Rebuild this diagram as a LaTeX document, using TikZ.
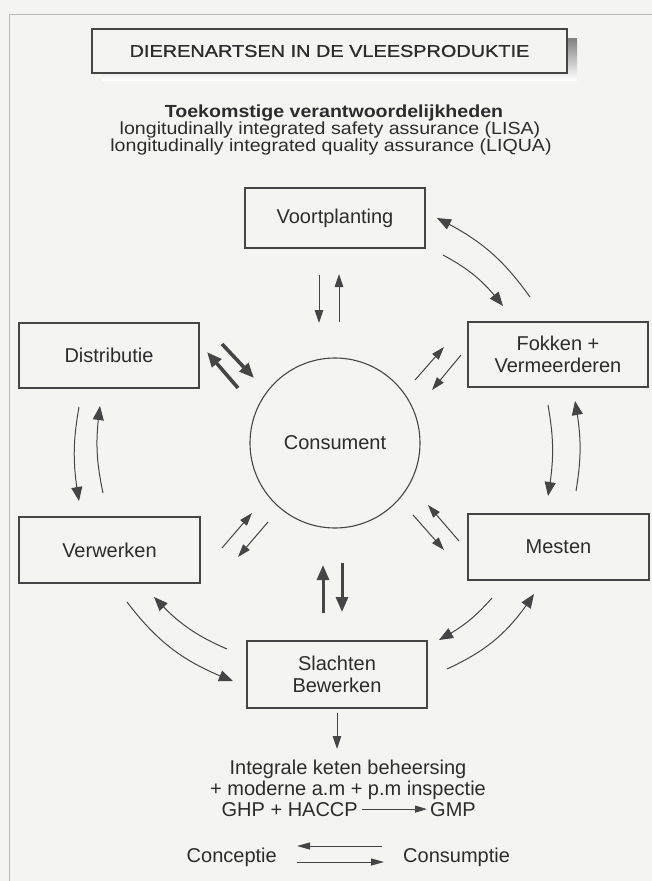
\documentclass[tikz,border=0pt]{standalone}
\usepackage{fontspec}
\setmainfont{Liberation Sans}
\newfontfamily\widefont[FakeStretch=1.12]{Liberation Sans}
\newfontfamily\titlefont[FakeStretch=1.17,FakeBold=1]{Liberation Sans}
\usetikzlibrary{arrows.meta,bending}
\definecolor{ink}{HTML}{2C2C2C}
\definecolor{bg}{HTML}{F4F5F0}
\definecolor{linec}{HTML}{454545}
\definecolor{frame}{HTML}{B8B8B4}
\definecolor{shade}{HTML}{8C8C8C}
\begin{document}
\begin{tikzpicture}[x=1pt,y=1pt,
  box/.style={draw=linec,line width=1.2pt,minimum width=180pt,align=center,
    font=\fontsize{20}{22}\selectfont,text=ink,inner sep=0pt},
  lbl/.style={font=\fontsize{20}{22}\selectfont,text=ink,inner sep=2pt},
  thin/.style={draw=linec,line width=1pt,-{Triangle[length=13pt,width=8.5pt]}},
  heavy/.style={draw=linec,line width=3.6pt,-{Triangle[length=15pt,width=12pt]}},
  curv/.style={draw=linec,line width=1pt,-{Triangle[length=14pt,width=11pt]}}]
\useasboundingbox (0,0) rectangle (652,-881);
\fill[bg] (0,0) rectangle (652,-881);
\draw[frame,line width=1pt] (9,-881) -- (9,-14) -- (652,-14);

% title
\fill[shade] (102,-38) rectangle (577,-80);
\node[draw=linec,line width=1.2pt,fill=bg,minimum width=475pt,minimum height=44pt,
  inner sep=0pt,text=ink,font=\titlefont\fontsize{17}{20}\selectfont] (title) at (329.5,-51)
  {DIERENARTSEN IN DE VLEESPRODUKTIE};

\node[anchor=base,text=ink,inner sep=0pt,font=\widefont\bfseries\fontsize{17.5}{17}\selectfont] (sub1) at (334,-117)
  {Toekomstige verantwoordelijkheden};
\node[anchor=base,text=ink,inner sep=0pt,font=\widefont\fontsize{17.5}{17}\selectfont] (sub2) at (330,-134.5)
  {longitudinally integrated safety assurance (LISA)};
\node[anchor=base,text=ink,inner sep=0pt,font=\widefont\fontsize{17.5}{17}\selectfont] (sub3) at (331,-151)
  {longitudinally integrated quality assurance (LIQUA)};

% nodes
\node[box,minimum height=60pt] (vp) at (335,-218) {Voortplanting};
\node[box,minimum height=65pt] (fok) at (558,-354.5) {Fokken +\\Vermeerderen};
\node[box,minimum height=65pt] (dist) at (109,-355.5) {Distributie};
\node[box,minimum height=66pt,minimum width=181pt] (verw) at (109.5,-550) {Verwerken};
\node[box,minimum height=66pt,minimum width=181pt] (mest) at (558.5,-547) {Mesten};
\node[box,minimum height=67pt] (sla) at (337,-674.5) {Slachten\\Bewerken};
\node[draw=linec,line width=1.1pt,circle,minimum size=170pt,inner sep=0pt,text=ink,
  font=\fontsize{20}{22}\selectfont] (cons) at (335,-443) {Consument};

% straight arrows to/from Consument
\coordinate (vpA1) at (319,-275); \coordinate (vpA2) at (319,-323);
\coordinate (vpB1) at (339,-322); \coordinate (vpB2) at (339,-274);
\draw[thin] (vpA1) -- (vpA2);
\draw[thin] (vpB1) -- (vpB2);

\coordinate (diA1) at (222,-344); \coordinate (diA2) at (254,-378);
\coordinate (diB1) at (238,-388); \coordinate (diB2) at (207,-352);
\draw[heavy] (diA1) -- (diA2);
\draw[heavy] (diB1) -- (diB2);

\coordinate (foA1) at (415,-380); \coordinate (foA2) at (444,-347);
\coordinate (foB1) at (461,-355); \coordinate (foB2) at (432,-390);
\draw[thin] (foA1) -- (foA2);
\draw[thin] (foB1) -- (foB2);

\coordinate (veA1) at (222,-548); \coordinate (veA2) at (252,-513);
\coordinate (veB1) at (268,-522); \coordinate (veB2) at (238,-557);
\draw[thin] (veA1) -- (veA2);
\draw[thin] (veB1) -- (veB2);

\coordinate (meA1) at (459,-541); \coordinate (meA2) at (428,-505);
\coordinate (meB1) at (413,-515); \coordinate (meB2) at (444,-550);
\draw[thin] (meA1) -- (meA2);
\draw[thin] (meB1) -- (meB2);

\coordinate (slA1) at (323,-613); \coordinate (slA2) at (323,-565);
\coordinate (slB1) at (342,-563); \coordinate (slB2) at (342,-612);
\draw[heavy,line width=3pt] (slA1) -- (slA2);
\draw[heavy,line width=3pt] (slB1) -- (slB2);

% curved arrows around the cycle
\coordinate (c1a) at (530,-297); \coordinate (c1b) at (437,-218);
\coordinate (c2a) at (443,-255); \coordinate (c2b) at (503,-306);
\draw[curv] (c1a) to[bend right=14] (c1b);
\draw[curv] (c2a) to[bend left=12] (c2b);

\coordinate (c3a) at (548,-405); \coordinate (c3b) at (548,-496);
\coordinate (c4a) at (576,-491); \coordinate (c4b) at (575,-401);
\draw[curv] (c3a) to[bend left=10] (c3b);
\draw[curv] (c4a) to[bend right=10] (c4b);

\coordinate (c5a) at (79,-407); \coordinate (c5b) at (79,-501);
\coordinate (c6a) at (103,-493); \coordinate (c6b) at (100,-406);
\draw[curv] (c5a) to[bend right=10] (c5b);
\draw[curv] (c6a) to[bend left=10] (c6b);

\coordinate (c7a) at (227,-649); \coordinate (c7b) at (154,-597);
\coordinate (c8a) at (127,-602); \coordinate (c8b) at (233,-681);
\draw[curv] (c7a) to[bend left=12] (c7b);
\draw[curv] (c8a) to[bend right=16] (c8b);

\coordinate (c9a) at (492,-598); \coordinate (c9b) at (439,-640);
\coordinate (c10a) at (447,-669); \coordinate (c10b) at (534,-594);
\draw[curv] (c9a) to[bend left=10] (c9b);
\draw[curv] (c10a) to[bend right=16] (c10b);

% bottom texts
\coordinate (slOut) at (337,-713);
\coordinate (ikbTop) at (337,-749);
\draw[thin] (slOut) -- (ikbTop);
\node[lbl,anchor=base,inner sep=0pt] (ikb) at (348,-774) {Integrale keten beheersing};
\node[lbl,anchor=base,inner sep=0pt] (mod) at (348,-795) {+ moderne a.m + p.m inspectie};
\node[lbl,anchor=base east,inner sep=0pt] (ghp) at (358,-816) {GHP + HACCP};
\node[lbl,anchor=base west,inner sep=0pt] (gmp) at (430,-816) {GMP};
\draw[draw=linec,line width=1pt,-{Triangle[length=12pt,width=7pt]},shorten <=4pt,shorten >=3pt]
  (ghp.east) -- (gmp.west);

\node[lbl,anchor=base east] (conc) at (279,-862) {Conceptie};
\node[lbl,anchor=base west] (cons2) at (401,-862) {Consumptie};
\coordinate (kA1) at (382,-846); \coordinate (kA2) at (297,-846);
\coordinate (kB1) at (297,-862); \coordinate (kB2) at (384,-862);
\draw[draw=linec,line width=1pt,-{Triangle[length=13pt,width=7pt]}] (kA1) -- (kA2);
\draw[draw=linec,line width=1pt,-{Triangle[length=13pt,width=7pt]}] (kB1) -- (kB2);
\end{tikzpicture}
\end{document}
